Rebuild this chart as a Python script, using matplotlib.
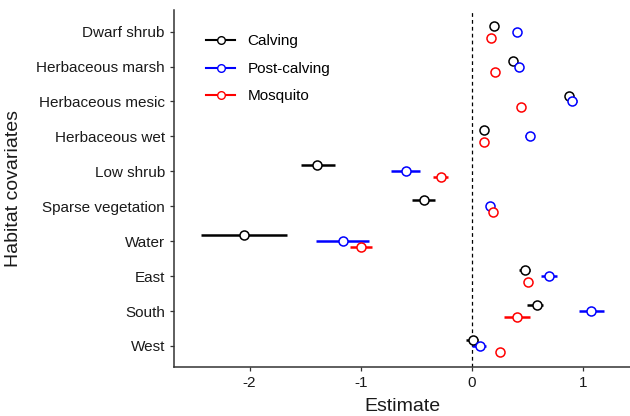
import numpy as np
import matplotlib
matplotlib.use("Agg")
import matplotlib.pyplot as plt
from matplotlib.lines import Line2D

plt.rcParams["font.family"] = ["Liberation Sans", "DejaVu Sans"]

covariates = ["Dwarf shrub", "Herbaceous marsh", "Herbaceous mesic", "Herbaceous wet",
              "Low shrub", "Sparse vegetation", "Water", "East", "South", "West"]
series = ["Calving", "Post-calving", "Mosquito"]
colors = ["#000000", "#0000FF", "#FF0000"]

# estimate, lower, upper for each series (top to bottom order of covariates)
calving_est = [0.20, 0.37, 0.87, 0.11, -1.39, -0.43, -2.05, 0.48, 0.58, 0.01]
calving_lo = [0.18, 0.35, 0.84, 0.09, -1.54, -0.54, -2.44, 0.42, 0.49, -0.05]
calving_hi = [0.22, 0.39, 0.90, 0.13, -1.23, -0.33, -1.66, 0.52, 0.64, 0.05]

post_est = [0.40, 0.42, 0.90, 0.52, -0.59, 0.16, -1.16, 0.69, 1.07, 0.07]
post_lo = [0.38, 0.40, 0.86, 0.48, -0.73, 0.13, -1.40, 0.62, 0.96, 0.00]
post_hi = [0.42, 0.44, 0.94, 0.56, -0.47, 0.19, -0.93, 0.76, 1.19, 0.13]

mosq_est = [0.17, 0.21, 0.44, 0.11, -0.28, 0.19, -1.00, 0.50, 0.40, 0.25]
mosq_lo = [0.15, 0.19, 0.42, 0.09, -0.35, 0.17, -1.10, 0.48, 0.29, 0.23]
mosq_hi = [0.19, 0.23, 0.46, 0.13, -0.22, 0.21, -0.90, 0.52, 0.52, 0.27]

ests = [calving_est, post_est, mosq_est]
los = [calving_lo, post_lo, mosq_lo]
his = [calving_hi, post_hi, mosq_hi]
dodge = [0.17, 0.0, -0.17]

fig = plt.figure(figsize=(6.3, 4.16), dpi=100)
ax = fig.add_axes([0.276, 0.118, 0.724, 0.858])

ypos = np.arange(len(covariates))[::-1] + 1

for est, lo, hi, c, d, name in zip(ests, los, his, colors, dodge, series):
    est = np.array(est)
    xerr = [est - np.array(lo), np.array(hi) - est]
    ax.errorbar(est, ypos + d, xerr=xerr, fmt="o", color=c, ecolor=c,
                elinewidth=1.8, capsize=0, ms=6.5, mfc="white", mec=c, mew=1.1,
                label=name, zorder=3)

ax.axvline(0, color="black", lw=0.9, ls=(0, (3, 2.5)), zorder=1)

ax.set_xlim(-2.68, 1.42)
ax.set_ylim(0.4, 10.62)
ax.set_yticks(ypos)
ax.set_yticklabels(covariates)
ax.set_xticks([-2, -1, 0, 1])
ax.set_xticklabels(["-2", "-1", "0", "1"])

for s in ["top", "right"]:
    ax.spines[s].set_visible(False)
for s in ["left", "bottom"]:
    ax.spines[s].set_color("#333333")
    ax.spines[s].set_linewidth(1.1)
ax.tick_params(colors="#333333", length=3, width=0.9, labelsize=11, labelcolor="#1a1a1a")

ax.set_xlabel("Estimate", fontsize=14, color="#1a1a1a", labelpad=6)
ax.set_ylabel("Habitat covariates", fontsize=14, color="#1a1a1a", labelpad=10)

handles = [Line2D([0], [0], color=c, lw=1.5, marker="o", ms=5.5, mfc="white",
                  mec=c, mew=1.0) for c in colors]
ax.legend(handles, series, loc="upper left", bbox_to_anchor=(0.041, 0.97),
          frameon=False, fontsize=11, handlelength=1.9, labelspacing=0.88,
          handletextpad=0.8)

fig.savefig("out.png", dpi=100)
